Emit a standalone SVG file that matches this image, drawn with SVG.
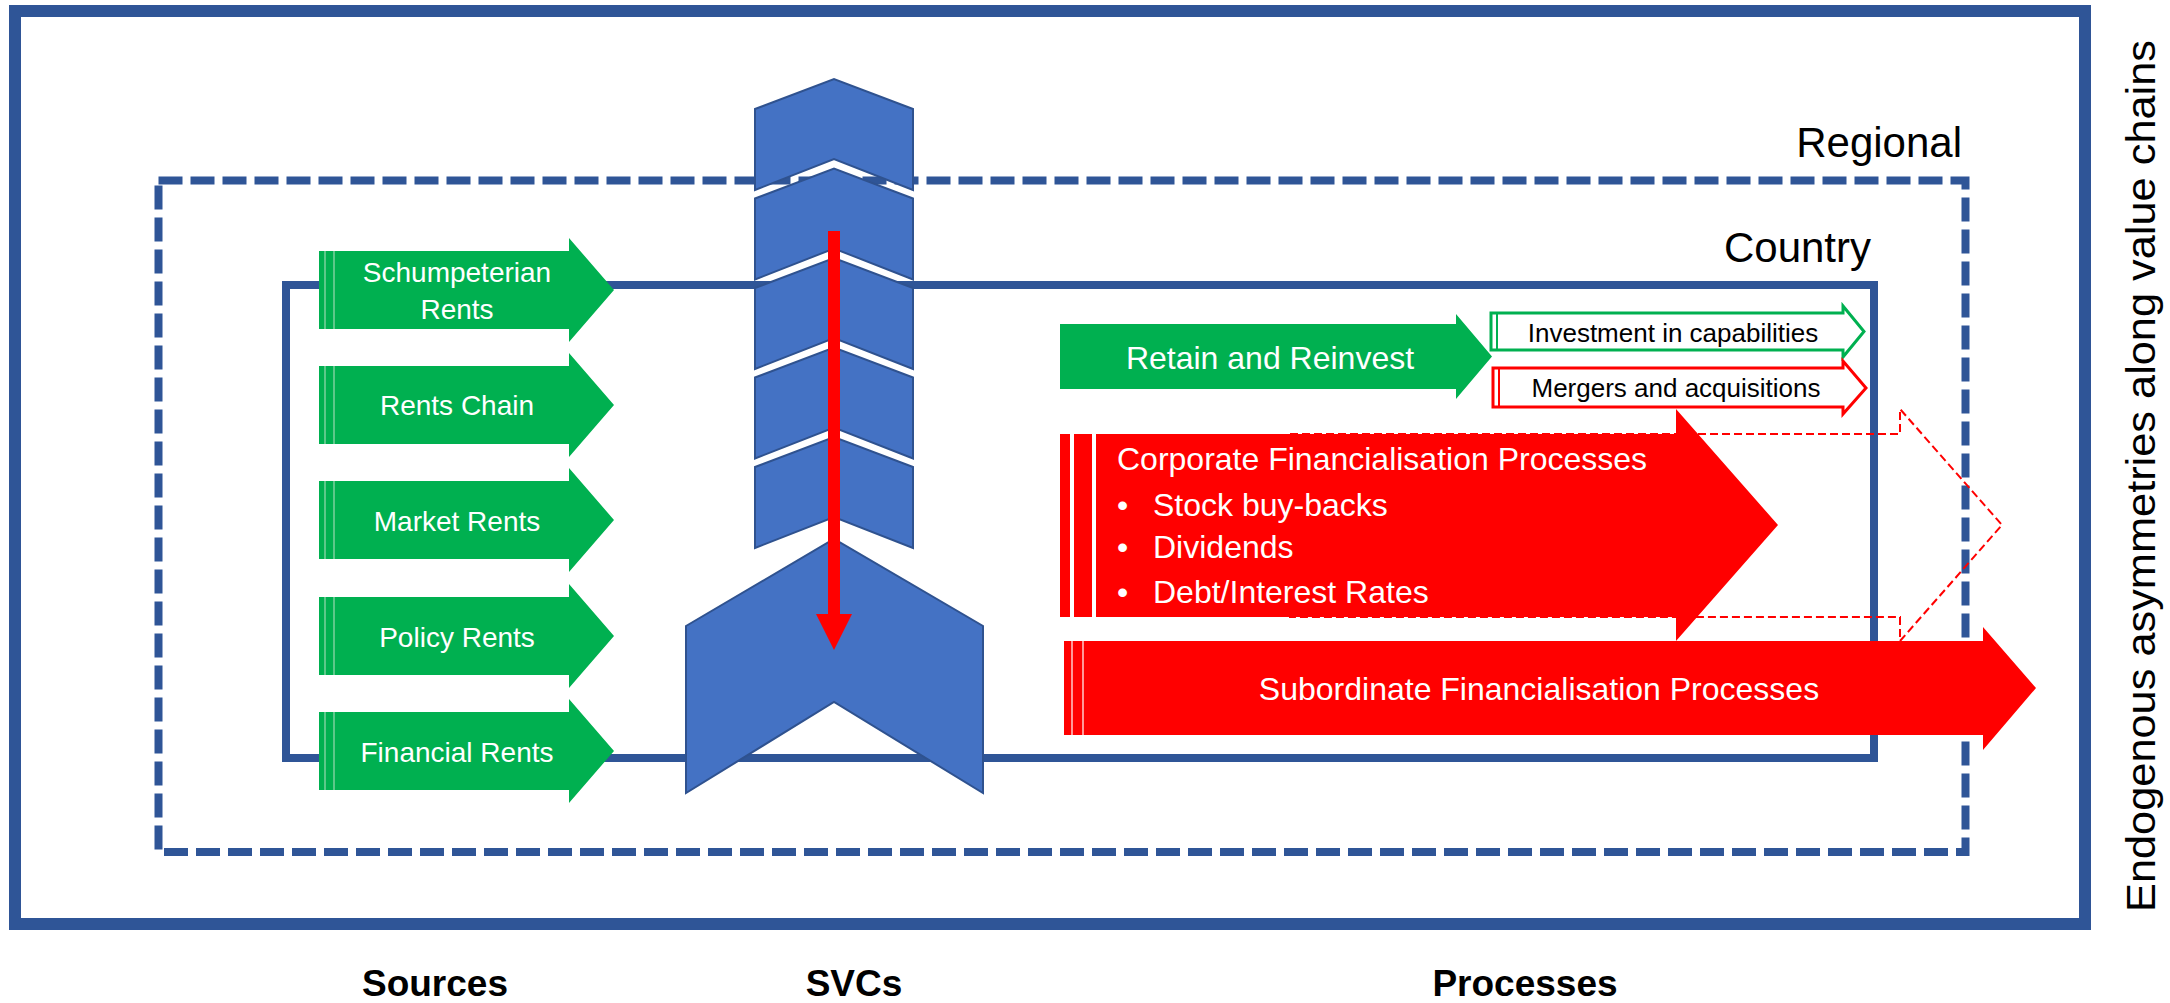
<svg xmlns="http://www.w3.org/2000/svg" width="2170" height="1003" viewBox="0 0 2170 1003">
<style>
.frame{fill:none;stroke:#2F5597}
.chev{fill:#4472C4;stroke:#2F528F;stroke-width:2}
.green{fill:#00B050}
.red{fill:#FF0000}
.stripe{stroke:#9AD9B1;stroke-width:1.2}
.rstripe{stroke:#FFFFFF;stroke-width:1.2}
.wt{font-family:"Liberation Sans",Arial,sans-serif;fill:#FFFFFF}
.bt{font-family:"Liberation Sans",Arial,sans-serif;fill:#000000}
.lbl{font-family:"Liberation Sans",Arial,sans-serif;font-weight:bold;font-size:37px;fill:#000000;text-anchor:middle}
</style>
<rect width="2170" height="1003" fill="#FFFFFF"/>

<g id="outer-frame">
<rect class="frame" x="15" y="11" width="2070" height="913" stroke-width="12"/>
<text class="bt" font-size="40" text-anchor="middle" textLength="872" lengthAdjust="spacingAndGlyphs" transform="translate(2155,476) rotate(-90)">Endogenous asymmetries along value chains</text>
</g>

<g id="regional">
<rect class="frame" x="158.5" y="180.5" width="1807" height="671.5" stroke-width="8" stroke-dasharray="24 8"/>
<text class="bt" x="1962" y="157" font-size="42" text-anchor="end">Regional</text>
</g>

<g id="country">
<rect class="frame" x="286" y="285" width="1588" height="473" stroke-width="8"/>
<text class="bt" x="1871" y="262" font-size="42" text-anchor="end">Country</text>
</g>

<g id="svcs">
<path class="chev" d="M755 109 L834 79 L913 109 L913 190 L834 159 L755 190 Z"/>
<path class="chev" d="M755 198.5 L834 168.5 L913 198.5 L913 279.5 L834 248.5 L755 279.5 Z"/>
<path class="chev" d="M755 288 L834 258 L913 288 L913 369 L834 338 L755 369 Z"/>
<path class="chev" d="M755 377.5 L834 347.5 L913 377.5 L913 458.5 L834 427.5 L755 458.5 Z"/>
<path class="chev" d="M755 467 L834 437 L913 467 L913 548 L834 517 L755 548 Z"/>
<path class="chev" d="M686 626 L834 539 L983 626 L983 793 L834 702 L686 793 Z"/>
</g>

<g id="schumpeterian-rents">
<path class="green" d="M319 251 L569 251 L569 238 L614 290 L569 342 L569 329 L319 329 Z"/>
<line class="stripe" x1="325" y1="251" x2="325" y2="329"/><line class="stripe" x1="334" y1="251" x2="334" y2="329"/>
<text class="wt" x="457" y="282" font-size="28" text-anchor="middle">Schumpeterian</text>
<text class="wt" x="457" y="319" font-size="28" text-anchor="middle">Rents</text>
</g>
<g id="rents-chain">
<path class="green" d="M319 366 L569 366 L569 353 L614 405 L569 457 L569 444 L319 444 Z"/>
<line class="stripe" x1="325" y1="366" x2="325" y2="444"/><line class="stripe" x1="334" y1="366" x2="334" y2="444"/>
<text class="wt" x="457" y="415" font-size="28" text-anchor="middle">Rents Chain</text>
</g>
<g id="market-rents">
<path class="green" d="M319 481 L569 481 L569 468 L614 520 L569 572 L569 559 L319 559 Z"/>
<line class="stripe" x1="325" y1="481" x2="325" y2="559"/><line class="stripe" x1="334" y1="481" x2="334" y2="559"/>
<text class="wt" x="457" y="531" font-size="28" text-anchor="middle">Market Rents</text>
</g>
<g id="policy-rents">
<path class="green" d="M319 597 L569 597 L569 584 L614 636 L569 688 L569 675 L319 675 Z"/>
<line class="stripe" x1="325" y1="597" x2="325" y2="675"/><line class="stripe" x1="334" y1="597" x2="334" y2="675"/>
<text class="wt" x="457" y="647" font-size="28" text-anchor="middle">Policy Rents</text>
</g>
<g id="financial-rents">
<path class="green" d="M319 712 L569 712 L569 699 L614 751 L569 803 L569 790 L319 790 Z"/>
<line class="stripe" x1="325" y1="712" x2="325" y2="790"/><line class="stripe" x1="334" y1="712" x2="334" y2="790"/>
<text class="wt" x="457" y="762" font-size="28" text-anchor="middle">Financial Rents</text>
</g>

<g id="retain-reinvest">
<path class="green" d="M1060 324 L1456 324 L1456 314 L1492 356.5 L1456 399 L1456 389 L1060 389 Z"/>
<text class="wt" x="1270" y="369" font-size="32" text-anchor="middle">Retain and Reinvest</text>
</g>

<g id="investment-capabilities">
<path d="M1491 313 L1843 313 L1843 306 L1864 331.5 L1843 357 L1843 350 L1491 350 Z" fill="#FFFFFF" stroke="#00B050" stroke-width="3"/>
<line x1="1497" y1="313" x2="1497" y2="350" stroke="#00B050" stroke-width="2"/>
<text class="bt" x="1673" y="342" font-size="26" text-anchor="middle">Investment in capabilities</text>
</g>

<g id="mergers-acquisitions">
<path d="M1493 368 L1843 368 L1843 361 L1866 388 L1843 414 L1843 407 L1493 407 Z" fill="#FFFFFF" stroke="#FF0000" stroke-width="3"/>
<line x1="1499" y1="368" x2="1499" y2="407" stroke="#FF0000" stroke-width="2"/>
<text class="bt" x="1676" y="397" font-size="26" text-anchor="middle">Mergers and acquisitions</text>
</g>

<g id="regional-financialisation-outline">
<path d="M1290 434 L1900 434 L1900 409 L2002 525 L1900 641 L1900 617 L1290 617 Z" fill="none" stroke="#FF0000" stroke-width="2" stroke-dasharray="8 4"/>
</g>

<g id="corporate-financialisation">
<path class="red" d="M1060 434 L1676 434 L1676 409 L1778 525 L1676 641 L1676 617 L1060 617 Z"/>
<rect x="1070" y="434" width="4" height="183" fill="#FFFFFF"/>
<rect x="1092" y="434" width="4" height="183" fill="#FFFFFF"/>
<text class="wt" x="1117" y="470" font-size="32">Corporate Financialisation Processes</text>
<text class="wt" x="1117" y="516" font-size="32">•</text>
<text class="wt" x="1153" y="516" font-size="32">Stock buy-backs</text>
<text class="wt" x="1117" y="558" font-size="32">•</text>
<text class="wt" x="1153" y="558" font-size="32">Dividends</text>
<text class="wt" x="1117" y="603" font-size="32">•</text>
<text class="wt" x="1153" y="603" font-size="32">Debt/Interest Rates</text>
</g>

<g id="subordinate-financialisation">
<path class="red" d="M1064 641 L1983 641 L1983 627 L2036 688 L1983 750 L1983 735 L1064 735 Z"/>
<line class="rstripe" x1="1072" y1="641" x2="1072" y2="735"/><line class="rstripe" x1="1083" y1="641" x2="1083" y2="735"/>
<text class="wt" x="1539" y="700" font-size="32" text-anchor="middle">Subordinate Financialisation Processes</text>
</g>

<g id="connectors">
<rect x="828" y="231" width="12" height="384" fill="#FF0000"/>
<polygon points="816,614 852,614 834,650" fill="#FF0000"/>
</g>

<g id="axis-labels">
<text class="lbl" x="435" y="996">Sources</text>
<text class="lbl" x="854" y="996">SVCs</text>
<text class="lbl" x="1525" y="996">Processes</text>
</g>
</svg>
